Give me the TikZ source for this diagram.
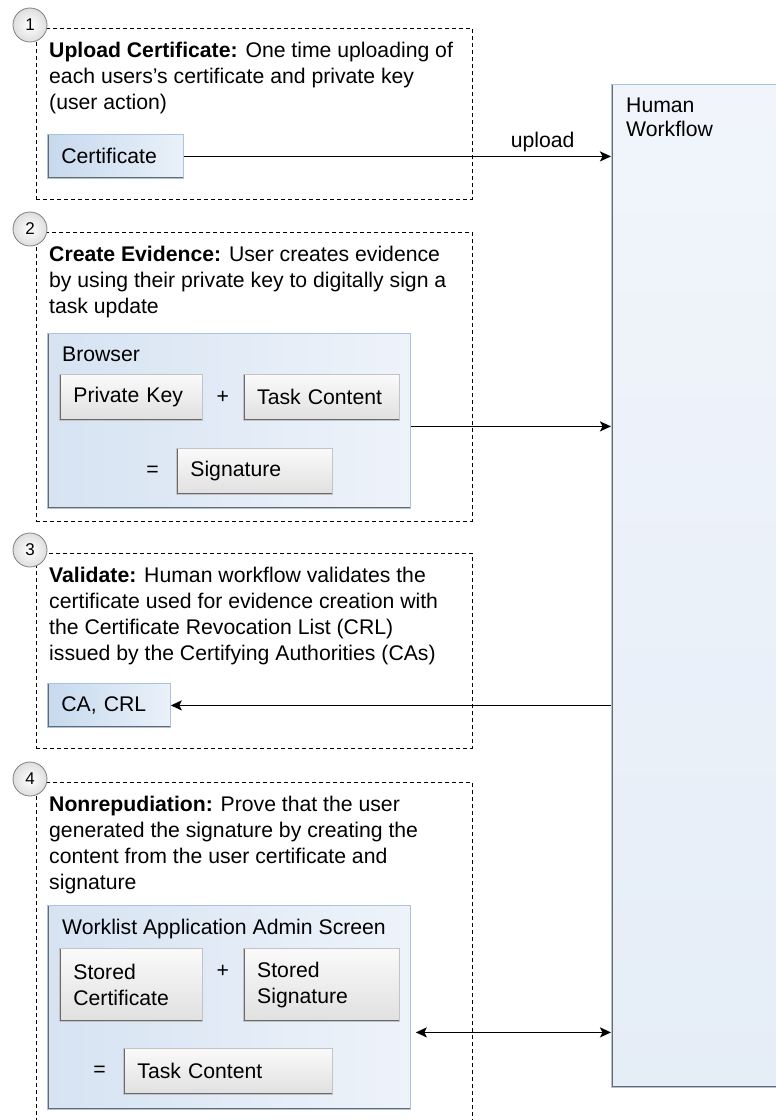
\documentclass[tikz,border=0pt]{standalone}
\usepackage{fontspec}
\setmainfont{Liberation Sans}
\usetikzlibrary{arrows.meta, positioning}

\definecolor{frameblue}{RGB}{170,196,224}
\definecolor{edgegrey}{RGB}{105,105,105}
\definecolor{blueA}{RGB}{198,217,238}
\definecolor{blueB}{RGB}{234,241,249}
\definecolor{paleA}{RGB}{214,227,242}
\definecolor{paleB}{RGB}{238,243,250}
\definecolor{hwA}{RGB}{241,245,251}
\definecolor{hwB}{RGB}{229,237,247}
\definecolor{greyA}{RGB}{250,250,250}
\definecolor{greyB}{RGB}{224,224,224}
\definecolor{boxline}{RGB}{195,195,195}

\begin{document}
\begin{tikzpicture}[
    x=1pt, y=-1pt,
    font=\fontsize{21.2}{26}\selectfont,
    >={Stealth[length=11pt, width=10pt, inset=2.5pt]},
    stepframe/.style={
        rectangle,
        draw,
        dash pattern=on 4pt off 3pt,
        line width=0.9pt,
        inner sep=0pt,
        anchor=north west
    },
    stepnum/.style={
        circle,
        draw=black!50,
        line width=0.8pt,
        inner color=white,
        outer color=black!13,
        minimum size=34pt,
        inner sep=0pt,
        font=\fontsize{17}{17}\selectfont
    },
    desc/.style={align=left, inner sep=0pt, anchor=north west},
    darkedge/.style={
        path picture={\draw[edgegrey, line width=3pt]
            (path picture bounding box.north west) --
            (path picture bounding box.south west) --
            (path picture bounding box.south east);}
    },
    bluebox/.style={
        rectangle,
        draw=frameblue,
        line width=0.8pt,
        left color=blueA,
        right color=blueB,
        inner xsep=14pt,
        inner ysep=0pt,
        minimum height=44pt,
        align=left,
        darkedge
    },
    container/.style={
        rectangle,
        draw=frameblue,
        line width=0.8pt,
        left color=paleA,
        right color=paleB,
        inner sep=0pt,
        darkedge
    },
    hwbox/.style={
        rectangle,
        draw=frameblue,
        line width=0.8pt,
        top color=hwA,
        bottom color=hwB,
        inner sep=0pt,
        anchor=north west,
        darkedge
    },
    greybox/.style={
        rectangle,
        draw=boxline,
        line width=0.8pt,
        top color=greyA,
        bottom color=greyB,
        inner xsep=14pt,
        inner ysep=0pt,
        align=left,
        darkedge
    },
    sign/.style={inner sep=0pt},
    conn/.style={->, line width=1.8pt}
]

\useasboundingbox (0,0) rectangle (776,1120);
\clip (0,0) rectangle (776,1120);

% Dashed step frames
\node[stepframe, minimum width=436pt, minimum height=171pt] (frame1) at (36,28) {};
\node[stepframe, minimum width=436pt, minimum height=289pt] (frame2) at (36,232) {};
\node[stepframe, minimum width=436pt, minimum height=195pt] (frame3) at (36,553) {};
\node[stepframe, minimum width=436pt, minimum height=360pt] (frame4) at (36,782) {};

% Step numbers
\node[stepnum] (num1) at (30,25) {1};
\node[stepnum] (num2) at (30,229) {2};
\node[stepnum] (num3) at (30,550) {3};
\node[stepnum] (num4) at (30,779) {4};

% Human Workflow
\node[hwbox, minimum width=200pt, minimum height=1003pt] (hw) at (611,84) {};
\node[desc, below right=14pt and 15pt of hw.north west,
      font=\fontsize{21.2}{23.5}\selectfont] (hwlbl) {Human\\Workflow};

% Step 1
\node[desc, below right=14pt and 13pt of frame1.north west] (desc1)
{\textbf{Upload Certificate:} One time uploading of\\
each users's certificate and private key\\
(user action)};
\node[bluebox, text width=108pt, below right=106pt and 11pt of frame1.north west] (cert) {Certificate};

% Step 2
\node[desc, below right=14pt and 13pt of frame2.north west] (desc2)
{\textbf{Create Evidence:} User creates evidence\\
by using their private key to digitally sign a\\
task update};
\node[container, minimum width=363pt, minimum height=175pt,
      below right=101pt and 11pt of frame2.north west] (browser) {};
\node[desc, below right=14pt and 15pt of browser.north west] (browserlbl) {Browser};
\node[greybox, text width=115pt, minimum height=46pt,
      below right=41pt and 12pt of browser.north west] (pkey) {Private Key};
\node[greybox, text width=128pt, minimum height=46pt, right=40pt of pkey] (tcont) {Task Content};
\path (pkey) -- node[sign] (plus1) {+} (tcont);
\node[greybox, text width=128pt, minimum height=46pt,
      below right=27pt and 117pt of pkey.south west] (sig) {Signature};
\node[sign, left=17pt of sig] (eq1) {=};

% Step 3
\node[desc, below right=14pt and 13pt of frame3.north west] (desc3)
{\textbf{Validate:} Human workflow validates the\\
certificate used for evidence creation with\\
the Certificate Revocation List (CRL)\\
issued by the Certifying Authorities (CAs)};
\node[bluebox, text width=95pt, below right=130pt and 11pt of frame3.north west] (ca) {CA, CRL};

% Step 4
\node[desc, below right=14pt and 13pt of frame4.north west] (desc4)
{\textbf{Nonrepudiation:} Prove that the user\\
generated the signature by creating the\\
content from the user certificate and\\
signature};
\node[container, minimum width=363pt, minimum height=204pt,
      below right=123pt and 11pt of frame4.north west] (worklist) {};
\node[desc, below right=14pt and 15pt of worklist.north west] (worklistlbl) {Worklist Application Admin Screen};
\node[greybox, text width=115pt, minimum height=73pt,
      below right=43pt and 12pt of worklist.north west] (scert) {Stored\\Certificate};
\node[greybox, text width=128pt, minimum height=73pt, right=40pt of scert] (ssig) {Stored\\Signature};
\path ([yshift=14pt]scert.east) -- node[sign] (plus2) {+} ([yshift=14pt]ssig.west);
\node[greybox, text width=181pt, minimum height=46pt,
      below right=26pt and 64pt of scert.south west] (tcont2) {Task Content};
\node[sign, left=17pt of tcont2] (eq2) {=};

% Connectors
\coordinate (brout) at ([yshift=-5.5pt]browser.east);
\coordinate (wlout) at ([yshift=-25pt]worklist.east);
\draw[conn] (cert) -- node[pos=0.84, above=0pt, inner sep=4pt] (uplbl) {upload} (cert -| hw.west);
\draw[conn] (brout) -- (brout -| hw.west);
\draw[conn] (ca.east -| hw.west) -- (ca.east);
\draw[conn, <->, shorten <=5pt] (wlout) -- (wlout -| hw.west);

\end{tikzpicture}
\end{document}
